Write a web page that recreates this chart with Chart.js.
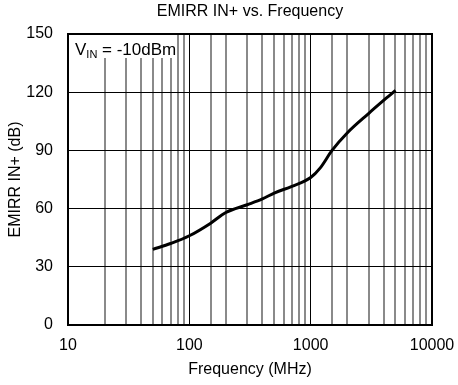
<!DOCTYPE html>
<html>
<head>
<meta charset="utf-8">
<script src="https://cdn.jsdelivr.net/npm/chart.js@4"></script>
<style>
  body { margin: 0; background: #fff; }
  #wrap { width: 458px; height: 385px; }
</style>
</head>
<body>
<div id="wrap"><canvas id="emirrChart" width="458" height="385"></canvas></div>
<script>
// EMIRR IN+ vs. Frequency
const freqMHz = [50, 70, 100, 150, 200, 300, 400, 500, 700, 1000, 1200, 1500, 2000, 3000, 5000];
const emirrDb = [39, 42, 46, 52.5, 58, 62, 65, 68, 71.5, 76, 81, 90, 99, 109, 121];
const xTickLabels = ["10", "100", "1000", "10000"];
const yTicks = [0, 30, 60, 90, 120, 150];

const FONT = "'Liberation Sans', Arial, sans-serif";

const isDecade = (v) => Math.abs(Math.log10(v) - Math.round(Math.log10(v))) < 1e-9;

// title, frame and the V_IN box
const extras = {
  id: "extras",
  beforeDatasetsDraw(chart) {
    const { ctx, chartArea: a } = chart;
    ctx.save();
    // V_IN box
    ctx.fillStyle = "#fff";
    ctx.fillRect(a.left, a.top, 108, 24);
    ctx.fillStyle = "#000";
    ctx.textBaseline = "alphabetic";
    ctx.font = "17px " + FONT;
    ctx.fillText("V", a.left + 7, a.top + 21);
    let x = a.left + 7 + ctx.measureText("V").width;
    ctx.font = "11px " + FONT;
    ctx.fillText("IN", x, a.top + 24);
    x += ctx.measureText("IN").width;
    ctx.font = "17px " + FONT;
    ctx.fillText(" = -10dBm", x, a.top + 21);
    // frame
    ctx.strokeStyle = "#000";
    ctx.lineWidth = 2;
    ctx.strokeRect(a.left, a.top, a.right - a.left, a.bottom - a.top);
    ctx.restore();
  },
  afterDraw(chart) {
    const { ctx, chartArea: a } = chart;
    ctx.save();
    ctx.fillStyle = "#000";
    ctx.font = "16px " + FONT;
    ctx.textAlign = "center";
    ctx.textBaseline = "middle";
    ctx.fillText("EMIRR IN+ vs. Frequency", (a.left + a.right) / 2, 12);
    ctx.restore();
  }
};

new Chart(document.getElementById("emirrChart"), {
  type: "line",
  data: {
    datasets: [{
      data: freqMHz.map((f, i) => ({ x: f, y: emirrDb[i] })),
      borderColor: "#000",
      borderWidth: 3,
      pointRadius: 0,
      cubicInterpolationMode: "monotone",
      fill: false
    }]
  },
  options: {
    responsive: false,
    animation: false,
    layout: { padding: { top: 34, right: 26, left: 0, bottom: 0 } },
    plugins: {
      legend: { display: false },
      tooltip: { enabled: false }
    },
    scales: {
      x: {
        type: "logarithmic",
        min: 10,
        max: 10000,
        afterFit: (s) => {
          s.height = 60;
          s.paddingLeft = 0;
          s.paddingRight = 0;
        },
        border: { display: false },
        grid: {
          drawTicks: false,
          lineWidth: (c) => (c.tick && isDecade(c.tick.value) ? 1 : 2),
          color: (c) => (c.tick && isDecade(c.tick.value) ? "#000" : "#8a8a8a")
        },
        ticks: {
          autoSkip: false,
          maxRotation: 0,
          padding: 11,
          color: "#000",
          font: { family: FONT, size: 16 },
          callback: (v) => {
            const s = String(v);
            return isDecade(v) && xTickLabels.includes(s) ? s : "";
          }
        },
        title: {
          display: true,
          text: "Frequency (MHz)",
          color: "#000",
          font: { family: FONT, size: 16 },
          padding: { top: 0, bottom: 6 }
        }
      },
      y: {
        min: yTicks[0],
        max: yTicks[yTicks.length - 1],
        afterFit: (s) => { s.width = 68; },
        afterBuildTicks: (s) => { s.ticks = yTicks.map((v) => ({ value: v })); },
        border: { display: false },
        grid: { drawTicks: false, color: "#000", lineWidth: 1 },
        ticks: {
          padding: 15,
          color: "#000",
          font: { family: FONT, size: 16 }
        },
        title: {
          display: true,
          text: "EMIRR IN+ (dB)",
          color: "#000",
          font: { family: FONT, size: 16 },
          padding: { top: 6, bottom: 0 }
        }
      }
    }
  },
  plugins: [extras]
});
</script>
</body>
</html>
